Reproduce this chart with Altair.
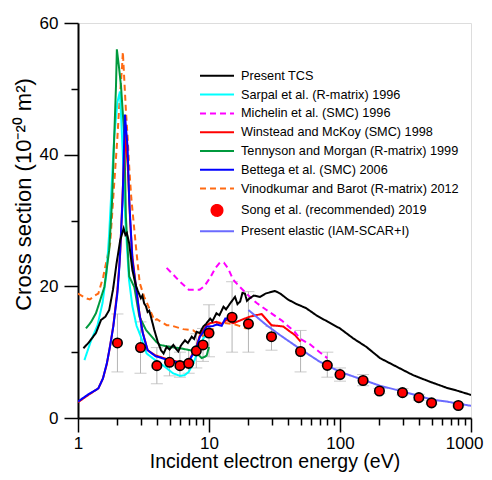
import altair as alt
import pandas as pd

FONT = "Liberation Sans"

names = [
    "Present TCS",
    "Sarpal et al. (R-matrix) 1996",
    "Michelin et al. (SMC) 1996",
    "Winstead and McKoy (SMC) 1998",
    "Tennyson and Morgan (R-matrix) 1999",
    "Bettega et al. (SMC) 2006",
    "Vinodkumar and Barot (R-matrix) 2012",
    "Song et al. (recommended) 2019",
    "Present elastic (IAM-SCAR+I)",
]
colors = ["#000000", "#00ffff", "#ff00ff", "#ff0000", "#00993d",
          "#0000ff", "#ff6a13", "#ff0000", "#6b6bff"]
dashes = [[1, 0], [1, 0], [6, 4], [1, 0], [1, 0], [1, 0], [6, 4], [1, 0], [1, 0]]

# Present TCS
tcs_e = [1.10, 1.2, 1.37, 1.5, 1.62, 1.73, 1.85, 1.97, 2.1, 2.23, 2.3, 2.36, 2.46, 2.6, 2.75,
         2.85, 3.02, 3.1, 3.2, 3.3, 3.4, 3.5, 3.6, 3.82, 4.06, 4.3, 4.5, 4.75, 5.0, 5.34,
         5.6, 5.83, 6.1, 6.55, 6.9, 7.38, 7.7, 8.05, 8.5, 9.05, 9.5, 10.2, 10.6, 11.4, 12.0,
         12.9, 13.5, 14.5, 15.8, 16.5, 17.3, 18.0, 18.8, 19.5, 20.5, 22, 24.5, 27, 31.9, 35,
         40, 46.7, 55, 66, 81, 100, 126, 159, 202, 270, 362, 487, 650, 800, 1000]
tcs_cs = [10.6, 11.4, 12.9, 14.9, 15.4, 16.4, 19.5, 23.5, 27.0, 28.8, 27.8, 28.1, 26.5, 22.5, 20.3,
          19.4, 18.2, 18.6, 17.4, 17.0, 16.1, 16.3, 15.4, 13.4, 11.6, 10.3, 9.8, 10.8, 10.4, 11.1,
          10.5, 10.1, 11.0, 11.8, 11.4, 12.35, 12.0, 13.1, 12.9, 13.9, 14.3, 15.1, 14.7, 15.9, 15.6,
          16.9, 16.5, 17.4, 18.4, 17.3, 17.7, 19.0, 18.9, 17.8, 18.2, 18.6, 18.4, 18.9, 19.3, 18.9,
          18.0, 17.3, 16.7, 15.6, 14.6, 13.6, 12.1, 10.8, 9.1, 7.8, 6.5, 5.5, 4.6, 4.1, 3.5]

# Sarpal et al.
sar_e = [1.12, 1.26, 1.41, 1.54, 1.65, 1.73, 1.89, 2.0, 2.09, 2.2, 2.3, 2.45, 2.6, 2.8, 3.0,
         3.34, 4.0, 4.6, 5.3, 6.0, 6.5, 7.0, 7.6, 8.3, 9.05, 9.9]
sar_cs = [8.8, 11.8, 14.1, 17.5, 22.0, 28.0, 42.7, 48.0, 49.6, 40.0, 30.0, 21.0, 17.0, 14.0, 12.5,
          9.8, 8.6, 7.8, 6.8, 6.4, 6.5, 7.0, 8.3, 10.3, 12.1, 12.9]

# Michelin et al.
mic_e = [4.75, 5.5, 6.0, 7.0, 8.5, 9.2, 10.2, 11.2, 12.1, 13.0, 14.0, 15.3, 17.2, 19.3, 23,
         27.5, 36, 45, 50, 59, 70, 80]
mic_cs = [22.8, 21.5, 20.7, 19.5, 19.5, 20.0, 21.3, 22.8, 23.6, 23.6, 22.7, 21.0, 19.9, 18.9, 17.5,
          16.4, 14.8, 13.1, 12.0, 11.2, 10.0, 9.1]

# Winstead and McKoy
win_e = [1.0, 1.2, 1.43, 1.55, 1.66, 1.76, 1.86, 2.0, 2.1, 2.2, 2.3, 2.4, 2.5, 2.6, 2.77,
         2.94, 3.12, 3.4, 3.9, 4.22, 5.0, 6.0, 6.75, 7.2, 7.6, 8.05, 8.5, 9.05, 9.6, 10.2,
         11.4, 12.5, 13.6, 15.3, 17.2, 20.5, 25.2, 30, 36.9, 41.7, 45.3, 50]
win_cs = [2.4, 3.5, 4.5, 6.0, 8.2, 11.0, 14.0, 19.5, 25.0, 35.0, 43.3, 38.0, 30.0, 24.5, 20.0,
          16.0, 13.0, 10.3, 9.5, 9.3, 8.8, 8.5, 8.5, 9.1, 10.0, 11.0, 12.5, 13.3, 14.1, 14.4,
          14.6, 14.3, 14.9, 14.4, 14.8, 15.4, 15.8, 14.1, 13.9, 13.1, 12.6, 11.6]

# Tennyson and Morgan
ten_e = [1.15, 1.26, 1.37, 1.45, 1.59, 1.73, 1.82, 1.87, 1.95, 1.98, 2.05, 2.13, 2.26, 2.32, 2.46,
         2.69, 2.94, 3.3, 3.94, 4.22, 5.0, 6.0, 7.17, 7.6, 8.3, 8.8, 9.3, 9.6, 10.0]
ten_cs = [13.6, 14.6, 15.9, 17.4, 19.9, 25.5, 33.0, 40.0, 50.4, 56.0, 53.5, 50.4, 42.7, 30.6, 21.5,
          19.9, 15.4, 13.4, 11.6, 11.1, 10.8, 10.6, 10.3, 10.1, 9.6, 9.1, 9.3, 9.5, 10.8]

# Bettega et al.
bet_e = [1.0, 1.2, 1.43, 1.55, 1.66, 1.76, 1.86, 2.0, 2.07, 2.19, 2.28, 2.39, 2.46, 2.6, 2.77,
         2.94, 3.12, 3.4, 3.9, 4.22, 5.0, 6.0, 6.75, 7.2, 7.6, 8.05, 8.5, 9.05, 9.6, 10.2,
         10.8, 11.4, 12.5, 13.3, 14.0]
bet_cs = [2.5, 3.6, 4.5, 6.0, 8.3, 11.0, 13.9, 19.0, 23.0, 33.1, 46.1, 41.2, 33.1, 24.0, 19.9,
          15.9, 12.9, 10.3, 9.4, 9.2, 8.7, 8.4, 8.4, 9.0, 9.8, 10.8, 12.3, 13.1, 13.9, 13.9,
          14.0, 14.2, 14.0, 15.1, 15.1]

# Vinodkumar and Barot
vin_e = [1.0, 1.15, 1.23, 1.37, 1.43, 1.56, 1.76, 1.89, 2.0, 2.07, 2.17, 2.2, 2.26, 2.32, 2.39,
         2.47, 2.55, 2.65, 2.77, 2.87, 2.96, 3.2, 3.34, 3.84, 4.0, 4.75, 5.04, 6.35, 7.6, 8.05,
         8.8, 9.05, 10.0, 11.7, 15.3, 17.0, 19.4]
vin_cs = [18.9, 18.2, 18.0, 18.7, 18.9, 21.5, 26.5, 35.6, 42.7, 47.8, 53.4, 55.6, 51.1, 46.8, 42.7,
          37.5, 33.5, 30.0, 26.0, 23.0, 20.5, 18.4, 17.6, 14.8, 15.0, 14.1, 14.1, 13.5, 13.3, 12.9,
          12.7, 12.4, 12.8, 14.5, 14.3, 14.0, 13.6]

# Present elastic
ela_e = [20, 27.5, 34.8, 49.5, 70, 79, 100, 150, 202, 285, 408, 515, 650, 1000]
ela_cs = [16.4, 14.1, 12.6, 10.5, 8.55, 8.05, 7.0, 5.8, 4.9, 4.15, 3.3, 2.75, 2.5, 1.85]

# Song et al. recommended
song_e = [2, 3, 4, 5, 6, 7, 8, 9, 10, 15, 20, 30, 50, 80, 100, 150, 200, 300, 400, 500, 800]
song_cs = [11.4, 10.7, 7.95, 8.46, 7.95, 8.3, 10.2, 11.1, 12.9, 15.3, 14.3, 12.35, 10.1, 8.0, 6.6,
           5.7, 4.1, 3.85, 3.1, 2.3, 1.9]
song_lo = [7.0, 6.8, 5.2, 6.4, 6.2, 6.8, 7.6, 8.6, 9.3, 10.0, 10.0, 10.3, 7.0, 6.2, 5.6,
           4.9, 3.7, 3.5, 2.7, 2.1, 1.7]
song_hi = [15.8, 14.6, 10.7, 11.0, 10.0, 10.4, 12.8, 13.6, 17.2, 20.7, 19.2, 13.9, 13.3, 10.0, 7.6,
           6.6, 4.5, 4.45, 3.6, 2.6, 2.1]

# draw order of the curves
curves = [
    (names[6], vin_e, vin_cs),
    (names[1], sar_e, sar_cs),
    (names[4], ten_e, ten_cs),
    (names[3], win_e, win_cs),
    (names[5], bet_e, bet_cs),
    (names[2], mic_e, mic_cs),
    (names[8], ela_e, ela_cs),
    (names[0], tcs_e, tcs_cs),
]
rows = []
for k, (nm, es, cs) in enumerate(curves):
    for e, c in zip(es, cs):
        rows.append({"series": nm, "E": e, "CS": c, "k": k})
lines_df = pd.DataFrame(rows)
song_df = pd.DataFrame({"series": names[7], "E": song_e, "CS": song_cs,
                        "lo": song_lo, "hi": song_hi})

LINE = "M-3.09,0L3.09,0"
leg = dict(orient="none", legendX=132.5, legendY=46.3, title=None, symbolSize=121,
           symbolStrokeWidth=2, labelFont=FONT, labelFontSize=12.7, labelOffset=17.5,
           rowPadding=4.8, padding=0, labelColor="black", symbolOpacity=1, labelLimit=0)

xscale = alt.Scale(type="log", domain=[1, 1000], nice=False)
yscale = alt.Scale(domain=[0, 60], nice=False, zero=False)

x_major = alt.Axis(values=[1, 10, 100, 1000], format="d", orient="bottom", tickSize=14,
                   tickWidth=1.5, tickColor="black", domainWidth=2, domainColor="black",
                   labelFont=FONT, labelFontSize=17, labelPadding=3, labelColor="black",
                   labelFlush=False, labelOverlap=False,
                   labelAlign=alt.condition("datum.value == 1000", alt.value("right"),
                                            alt.value("center")),
                   labelOffset=alt.condition("datum.value == 1000", alt.value(12),
                                             alt.value(0)),
                   title="Incident electron energy (eV)", titleFont=FONT, titleFontSize=19.5,
                   titleFontWeight="normal", titleColor="black", titleBaseline="alphabetic",
                   titleY=49.5, grid=False)
x_minor = alt.Axis(values=[2, 3, 4, 5, 6, 7, 8, 9, 20, 30, 40, 50, 60, 70, 80, 90,
                           200, 300, 400, 500, 600, 700, 800, 900],
                   orient="bottom", tickSize=7, tickWidth=1.5, tickColor="black",
                   labels=False, domain=False, title=None, grid=False)
y_major = alt.Axis(values=[0, 20, 40, 60], orient="left", tickSize=14, tickWidth=1.5,
                   tickColor="black", domainWidth=2, domainColor="black",
                   labelFont=FONT, labelFontSize=17, labelPadding=6, labelColor="black",
                   labelFlush=False,
                   title="Cross section (10⁻²⁰ m²)", titleFont=FONT, titleFontSize=22,
                   titleFontWeight="normal", titleColor="black", titlePadding=4, grid=False,
                   titleY=171)
y_minor = alt.Axis(values=[10, 30, 50], orient="left", tickSize=7, tickWidth=1.5,
                   tickColor="black", labels=False, domain=False, title=None, grid=False)

err = alt.Chart(song_df).mark_rule(color="#b4b4b4", strokeWidth=1).encode(
    x=alt.X("E:Q", scale=xscale, axis=x_minor),
    y=alt.Y("lo:Q", scale=yscale, axis=y_minor),
    y2="hi:Q",
)
cap_lo = alt.Chart(song_df).mark_tick(color="#b4b4b4", thickness=1, size=12,
                                      orient="horizontal").encode(
    x=alt.X("E:Q", scale=xscale, axis=None),
    y=alt.Y("lo:Q", scale=yscale, axis=None),
)
cap_hi = alt.Chart(song_df).mark_tick(color="#b4b4b4", thickness=1, size=12,
                                      orient="horizontal").encode(
    x=alt.X("E:Q", scale=xscale, axis=None),
    y=alt.Y("hi:Q", scale=yscale, axis=None),
)
lines = alt.Chart(lines_df).mark_line(strokeWidth=2, clip=True).encode(
    x=alt.X("E:Q", scale=xscale, axis=x_major),
    y=alt.Y("CS:Q", scale=yscale, axis=y_major),
    color=alt.Color("series:N", scale=alt.Scale(domain=names, range=colors),
                    legend=alt.Legend(**leg)),
    strokeDash=alt.StrokeDash("series:N", scale=alt.Scale(domain=names, range=dashes),
                              legend=alt.Legend(**leg)),
    detail="k:N",
)
pts = alt.Chart(song_df).mark_point(filled=True, size=90, stroke="black", strokeWidth=1.6,
                                    opacity=1).encode(
    x=alt.X("E:Q", scale=xscale, axis=None),
    y=alt.Y("CS:Q", scale=yscale, axis=None),
    color=alt.Color("series:N", scale=alt.Scale(domain=names, range=colors),
                    legend=alt.Legend(**leg)),
    shape=alt.Shape("series:N",
                    scale=alt.Scale(domain=names, range=[LINE] * 7 + ["circle", LINE]),
                    legend=alt.Legend(**leg)),
)

chart = alt.layer(err, cap_lo, cap_hi, lines, pts).resolve_axis(
    x="independent", y="independent"
).properties(
    width=393, height=395,
    autosize=alt.AutoSizeParams(type="none"),
    padding={"left": 70, "top": 15, "right": 13, "bottom": 54},
).configure_view(stroke=None).configure(font=FONT)

chart.save("out.html", embed_options={"renderer": "svg", "actions": False})
